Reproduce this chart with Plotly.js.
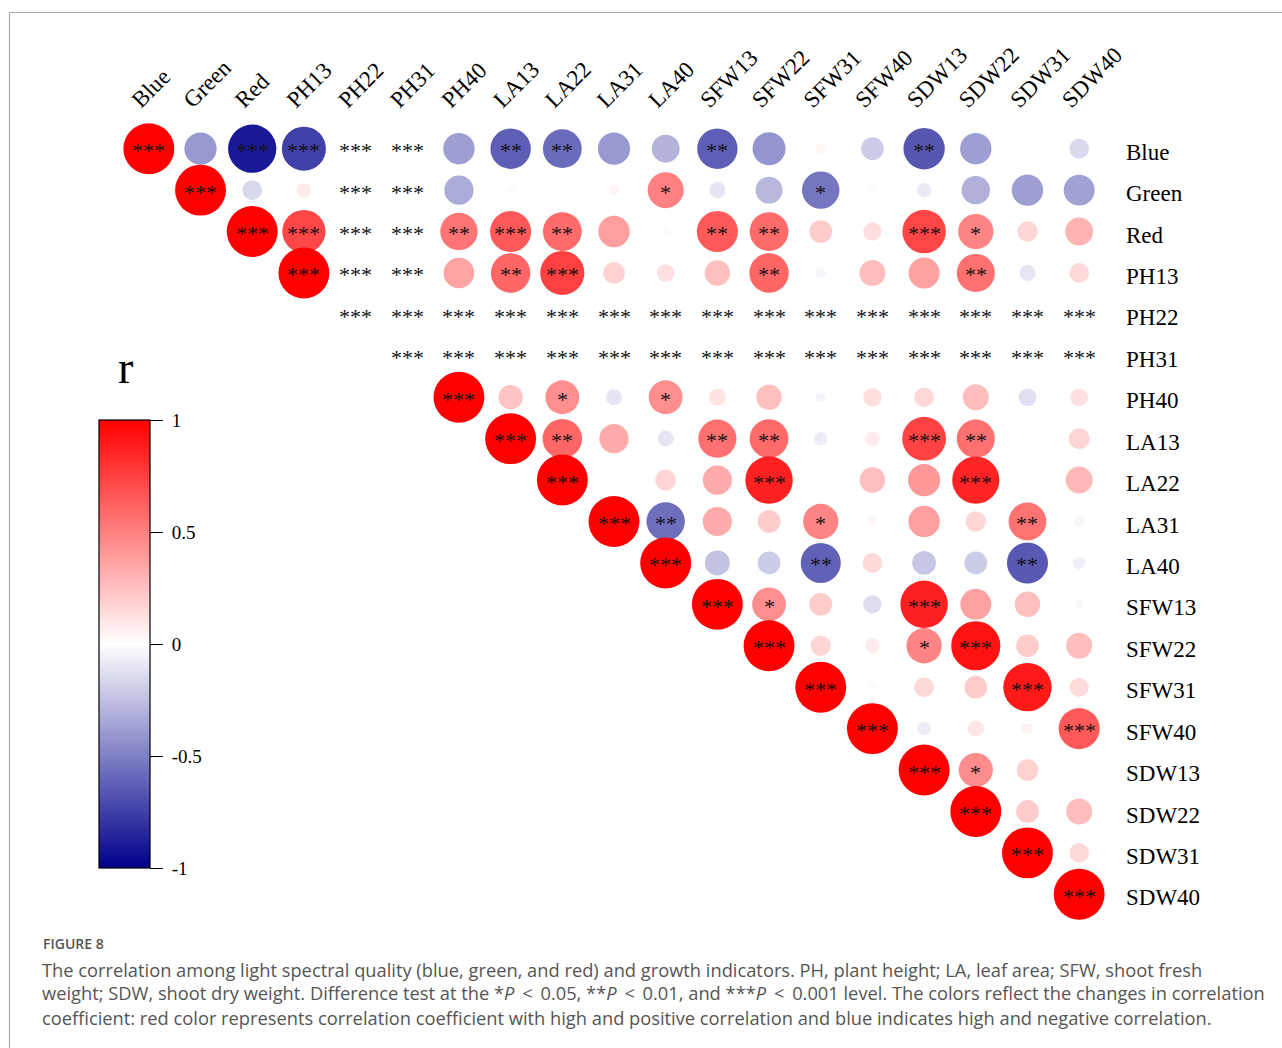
<!DOCTYPE html>
<html>
<head>
<meta charset="utf-8">
<script src="https://cdn.plot.ly/plotly-3.0.1.min.js"></script>
<style>
  html, body { margin: 0; padding: 0; background: #fff; }
  #chart { width: 1282px; height: 1048px; }
</style>
</head>
<body>
<div id="chart"></div>
<script>
// ---- Data ----
const labels = ['Blue','Green','Red','PH13','PH22','PH31','PH40','LA13','LA22','LA31','LA40','SFW13','SFW22','SFW31','SFW40','SDW13','SDW22','SDW31','SDW40'];

// correlation coefficients, upper triangle (each row starts at its diagonal); null = no circle
const r_Blue  = [1, -0.40, -0.90, -0.75, null, null, -0.38, -0.63, -0.58, -0.40, -0.30, -0.63, -0.42, 0.04, -0.20, -0.66, -0.38, 0.00, -0.15];
const r_Green = [1, -0.15, 0.08, null, null, -0.33, 0.02, 0.00, 0.04, 0.50, -0.10, -0.28, -0.54, 0.02, -0.08, -0.31, -0.38, -0.37];
const r_Red   = [1, 0.72, null, null, 0.54, 0.65, 0.58, 0.38, 0.02, 0.65, 0.58, 0.20, 0.13, 0.73, 0.48, 0.16, 0.30];
const r_PH13  = [1, null, null, 0.36, 0.60, 0.75, 0.18, 0.12, 0.25, 0.60, -0.04, 0.26, 0.37, 0.56, -0.10, 0.15];
const r_PH22  = [null, null, null, null, null, null, null, null, null, null, null, null, null, null, null];
const r_PH31  = [null, null, null, null, null, null, null, null, null, null, null, null, null, null];
const r_PH40  = [1, 0.23, 0.44, -0.10, 0.44, 0.11, 0.25, -0.04, 0.13, 0.15, 0.26, -0.12, 0.12];
const r_LA13  = [1, 0.60, 0.33, -0.10, 0.56, 0.58, -0.07, 0.08, 0.74, 0.56, 0.01, 0.17];
const r_LA22  = [1, 0.00, 0.17, 0.33, 0.87, 0.00, 0.25, 0.40, 0.86, 0.00, 0.28];
const r_LA31  = [1, -0.57, 0.33, 0.20, 0.48, 0.03, 0.38, 0.16, 0.55, -0.04];
const r_LA40  = [1, -0.24, -0.20, -0.62, 0.15, -0.22, -0.20, -0.65, -0.06];
const r_SFW13 = [1, 0.44, 0.20, -0.13, 0.87, 0.37, 0.25, -0.03];
const r_SFW22 = [1, 0.16, 0.08, 0.48, 0.93, 0.20, 0.26];
const r_SFW31 = [1, 0.02, 0.15, 0.20, 0.90, 0.14];
const r_SFW40 = [1, -0.07, 0.10, 0.05, 0.65];
const r_SDW13 = [1, 0.45, 0.18, 0.01];
const r_SDW22 = [1, 0.20, 0.26];
const r_SDW31 = [1, 0.15];
const r_SDW40 = [1];

// significance marks, same layout
const s_Blue  = ['***','','***','***','***','***','','**','**','','','**','','','','**','','',''];
const s_Green = ['***','','','***','***','','','','','*','','','*','','','','',''];
const s_Red   = ['***','***','***','***','**','***','**','','','**','**','','','***','*','',''];
const s_PH13  = ['***','***','***','','**','***','','','','**','','','','**','',''];
const s_PH22  = ['***','***','***','***','***','***','***','***','***','***','***','***','***','***','***'];
const s_PH31  = ['***','***','***','***','***','***','***','***','***','***','***','***','***','***'];
const s_PH40  = ['***','','*','','*','','','','','','','',''];
const s_LA13  = ['***','**','','','**','**','','','***','**','',''];
const s_LA22  = ['***','','','','***','','','','***','',''];
const s_LA31  = ['***','**','','','*','','','','**',''];
const s_LA40  = ['***','','','**','','','','**',''];
const s_SFW13 = ['***','*','','','***','','',''];
const s_SFW22 = ['***','','','*','***','',''];
const s_SFW31 = ['***','','','','***',''];
const s_SFW40 = ['***','','','','***'];
const s_SDW13 = ['***','*','',''];
const s_SDW22 = ['***','',''];
const s_SDW31 = ['***',''];
const s_SDW40 = ['***'];

const rRows = [r_Blue,r_Green,r_Red,r_PH13,r_PH22,r_PH31,r_PH40,r_LA13,r_LA22,r_LA31,r_LA40,r_SFW13,r_SFW22,r_SFW31,r_SFW40,r_SDW13,r_SDW22,r_SDW31,r_SDW40];
const sRows = [s_Blue,s_Green,s_Red,s_PH13,s_PH22,s_PH31,s_PH40,s_LA13,s_LA22,s_LA31,s_LA40,s_SFW13,s_SFW22,s_SFW31,s_SFW40,s_SDW13,s_SDW22,s_SDW31,s_SDW40];

const colorbarTicks = [-1, -0.5, 0, 0.5, 1];

const caption = [
  'The correlation among light spectral quality (blue, green, and red) and growth indicators. PH, plant height; LA, leaf area; SFW, shoot fresh',
  'weight; SDW, shoot dry weight. Difference test at the *<i>P</i> &#8201;&lt;&#8201; 0.05, **<i>P</i> &#8201;&lt;&#8201; 0.01, and ***<i>P</i> &#8201;&lt;&#8201; 0.001 level. The colors reflect the changes in correlation',
  'coefficient: red color represents correlation coefficient with high and positive correlation and blue indicates high and negative correlation.'
];

// ---- Build traces ----
const cx = [], cy = [], cr = [], csz = [];
const annotations = [];
const serif = 'Liberation Serif, Times New Roman, serif';
rRows.forEach((row, i) => {
  row.forEach((v, k) => {
    const j = i + k;
    if (v !== null) {
      cx.push(labels[j]); cy.push(labels[i]); cr.push(v); csz.push(Math.abs(v));
    }
    const s = sRows[i][k];
    if (s) {
      annotations.push({x: labels[j], y: labels[i], xref: 'x', yref: 'y', text: s, showarrow: false,
        font: {family: serif, size: 22, color: '#111'}, yshift: -2});
    }
  });
});

// layout helpers (pixel -> paper)
const W = 1282, H = 1048, mL = 123, mR = 177, mT = 128, mB = 133;
const pw = W - mL - mR, ph = H - mT - mB;
const px = v => (v - mL) / pw;
const py = v => (H - mB - v) / ph;

annotations.push({x: px(125), y: py(367), xref: 'paper', yref: 'paper', text: 'r', showarrow: false,
  font: {family: serif, size: 46, color: '#000'}, xanchor: 'center', yanchor: 'middle'});

const capFont = {family: 'Open Sans, Lato, sans-serif', size: 18.3, color: '#555'};
annotations.push({x: px(41), y: py(943), xref: 'paper', yref: 'paper', text: 'FIGURE 8', showarrow: false,
  font: {family: 'Open Sans, sans-serif', size: 14, color: '#555', weight: 600}, xanchor: 'left', yanchor: 'middle'});
caption.forEach((t, i) => {
  annotations.push({x: px(40), y: py(969 + 24 * i), xref: 'paper', yref: 'paper', text: t, showarrow: false,
    font: capFont, xanchor: 'left', yanchor: 'middle', align: 'left'});
});

const trace = {
  type: 'scatter', mode: 'markers', x: cx, y: cy, cliponaxis: false,
  hoverinfo: 'x+y+text', text: cr.map(v => 'r = ' + v),
  marker: {
    color: cr, cmin: -1, cmax: 1, opacity: 1,
    colorscale: [[0, '#00008B'], [0.5, '#FFFFFF'], [1, '#FF0000']],
    size: csz, sizemode: 'area', sizeref: 1 / (36 * 36), line: {width: 0},
    showscale: true,
    colorbar: {
      x: px(99), xanchor: 'left', y: py(644), yanchor: 'middle',
      thickness: 51, thicknessmode: 'pixels', len: 448, lenmode: 'pixels',
      xpad: 0, ypad: 0, outlinewidth: 1.2, outlinecolor: '#000',
      ticks: 'outside', ticklen: 13, tickwidth: 1.2, tickcolor: '#000',
      tickvals: colorbarTicks, ticktext: colorbarTicks.map(v => ' ' + v),
      tickfont: {family: serif, size: 19, color: '#000'}
    }
  }
};

const layout = {
  width: W, height: H,
  margin: {l: mL, r: mR, t: mT, b: mB, pad: 0},
  paper_bgcolor: '#fff', plot_bgcolor: '#fff',
  showlegend: false,
  xaxis: {type: 'category', categoryorder: 'array', categoryarray: labels, range: [-0.5, 18.5],
    side: 'top', tickangle: -45, showgrid: false, zeroline: false, showline: false, ticks: '',
    ticklabelstandoff: 10, ticklabelshift: -16, fixedrange: true,
    tickfont: {family: serif, size: 23, color: '#000'}},
  yaxis: {type: 'category', categoryorder: 'array', categoryarray: labels, range: [18.5, -0.5],
    side: 'right', showgrid: false, zeroline: false, showline: false, ticks: '',
    ticklabelstandoff: 20, ticklabelshift: -3, fixedrange: true,
    tickfont: {family: serif, size: 23, color: '#000'}},
  annotations: annotations,
  shapes: [
    {type: 'line', xref: 'paper', yref: 'paper', x0: px(9.5), x1: px(1282), y0: py(12.5), y1: py(12.5), line: {color: '#aaa', width: 1.2}},
    {type: 'line', xref: 'paper', yref: 'paper', x0: px(9.5), x1: px(9.5), y0: py(12.5), y1: py(1048), line: {color: '#aaa', width: 1.2}}
  ]
};

Plotly.newPlot('chart', [trace], layout, {displayModeBar: false});
</script>
</body>
</html>
